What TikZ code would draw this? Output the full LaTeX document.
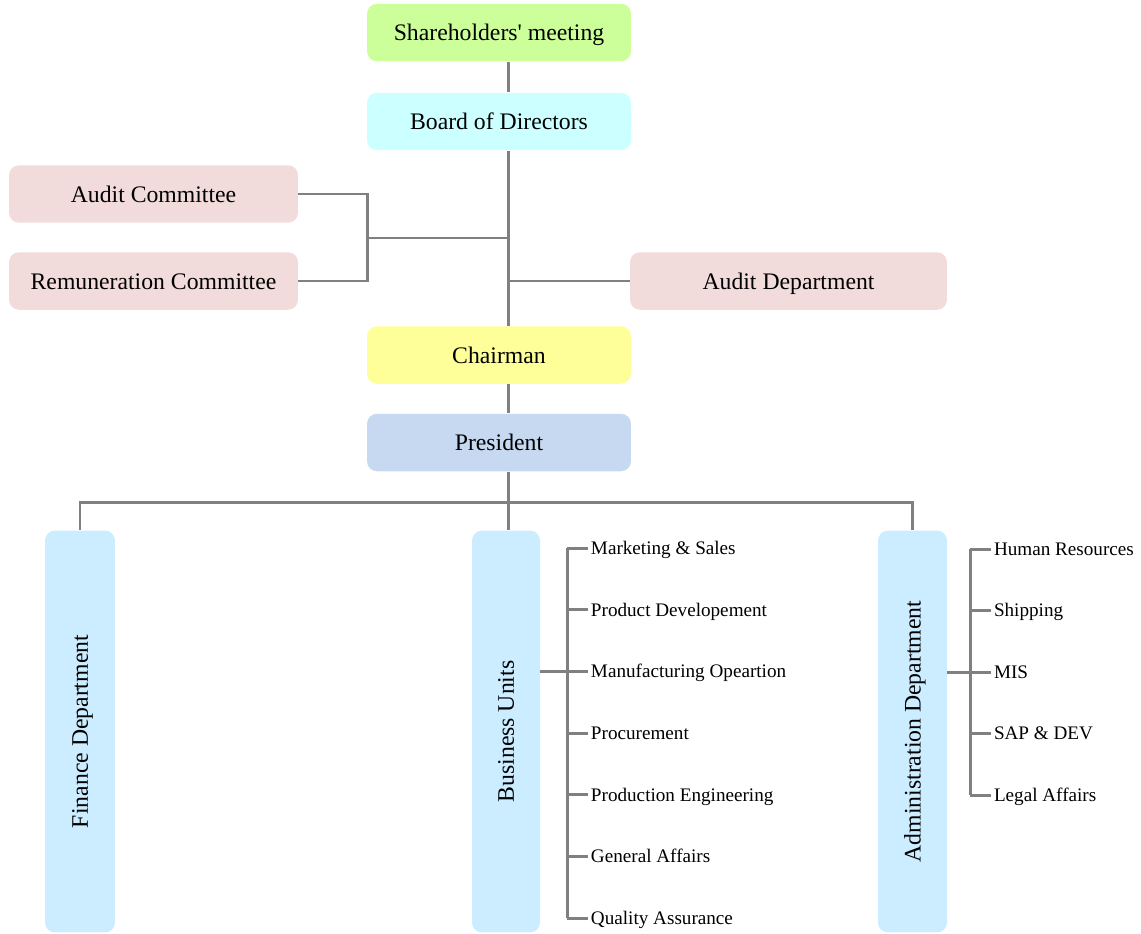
\documentclass[tikz,border=0pt]{standalone}
\usepackage{fontspec}
\setmainfont{Liberation Serif}
\usepackage{graphicx}
\usepackage{tikz}
\usetikzlibrary{positioning, calc}

\definecolor{shareclr}{HTML}{CCFF99}
\definecolor{boardclr}{HTML}{CCFFFF}
\definecolor{commclr}{HTML}{F2DCDB}
\definecolor{chairclr}{HTML}{FFFF99}
\definecolor{presclr}{HTML}{C6D9F0}
\definecolor{deptclr}{HTML}{CCECFF}
\definecolor{linkclr}{HTML}{808080}

\newcommand{\vlabel}[1]{\rotatebox{90}{\raisebox{0pt}[\height][0pt]{#1}}}

\tikzset{
  box/.style={rounded corners=0.2cm, inner sep=0pt, minimum height=1.15cm,
    text height=2ex, text depth=0pt, font=\fontsize{13.5}{16}\selectfont},
  headbox/.style={box, minimum width=5.28cm},
  deptbox/.style={rounded corners=0.2cm, inner sep=0pt, fill=deptclr,
    minimum height=8.04cm, font=\fontsize{13.5}{16}\selectfont},
  item/.style={anchor=west, inner sep=1.5pt, text height=1.6ex, text depth=0pt,
    font=\fontsize{10.9}{13}\selectfont},
  link/.style={draw=linkclr, line width=1.7pt}
}

\begin{document}
\begin{tikzpicture}[x={(0.02cm,0)}, y={(0,-0.02cm)}]
  \useasboundingbox (0,0) rectangle (1141,933);

  % Gremios de cabecera
  \node[headbox, fill=shareclr] (share) at (499,32.5) {Shareholders\textquotesingle{} meeting};
  \node[headbox, fill=boardclr] (board) at (499,121.5) {Board of Directors};
  \node[headbox, fill=chairclr] (chair) at (499,355) {Chairman};
  \node[headbox, fill=presclr] (pres) at (499,442.5) {President};

  % Comites y auditoria
  \node[box, fill=commclr, minimum width=5.78cm] (ac) at (153.5,194) {Audit Committee};
  \node[box, fill=commclr, minimum width=5.78cm] (rc) at (153.5,281) {Remuneration Committee};
  \node[box, fill=commclr, minimum width=6.34cm] (ad) at (788.5,281) {Audit Department};

  % Departamentos
  \node[deptbox, minimum width=1.4cm] (fin) at (80,731.5) {\vlabel{Finance Department}};
  \node[deptbox, minimum width=1.36cm] (bu) at (506,731.5) {\vlabel{Business Units}};
  \node[deptbox, minimum width=1.38cm] (adm) at (912.5,731.5) {\vlabel{Administration Department}};

  % Puntos de union
  \coordinate (trunk) at (508,0);
  \coordinate (cbar) at (367,238);
  \coordinate (hub) at (508,502);
  \coordinate (bubar) at (567,0);
  \coordinate (admbar) at (970,0);

  % Tronco principal
  \draw[link] (share.south -| trunk) -- (board.north -| trunk);
  \draw[link] (board.south -| trunk) -- (chair.north -| trunk);
  \draw[link] (chair.south -| trunk) -- (pres.north -| trunk);
  \draw[link] (pres.south -| trunk) -- (hub);

  % Comites -> tronco
  \draw[link] (ac.east) -- (ac.east -| cbar) -- (rc.east -| cbar) -- (rc.east);
  \draw[link] (cbar) -- (cbar -| trunk);
  \draw[link] (ad.west) -- (ad.west -| trunk);

  % Presidente -> departamentos
  \draw[link] (fin.north) |- (hub) -| (adm.north);
  \draw[link] (hub) -- (bu.north -| trunk);

  % Unidades de negocio
  \foreach \txt [count=\i] in {Marketing \& Sales, Product Developement,
      Manufacturing Opeartion, Procurement, Production Engineering,
      General Affairs, Quality Assurance}
    \node[item] (bu\i) at (588,{548+61.67*(\i-1)}) {\txt};
  \foreach \i in {1,...,7}
    \draw[link] (bu\i.west -| bubar) -- (bu\i.west);
  \draw[link] (bu1.west -| bubar) -- (bu7.west -| bubar);
  \draw[link] (bu3.west -| bu.east) -- (bu3.west -| bubar);

  % Administracion
  \foreach \txt [count=\i] in {Human Resources, Shipping, MIS,
      SAP \& DEV, Legal Affairs}
    \node[item] (adm\i) at (991,{549+61.5*(\i-1)}) {\txt};
  \foreach \i in {1,...,5}
    \draw[link] (adm\i.west -| admbar) -- (adm\i.west);
  \draw[link] (adm1.west -| admbar) -- (adm5.west -| admbar);
  \draw[link] (adm3.west -| adm.east) -- (adm3.west -| admbar);
\end{tikzpicture}
\end{document}
